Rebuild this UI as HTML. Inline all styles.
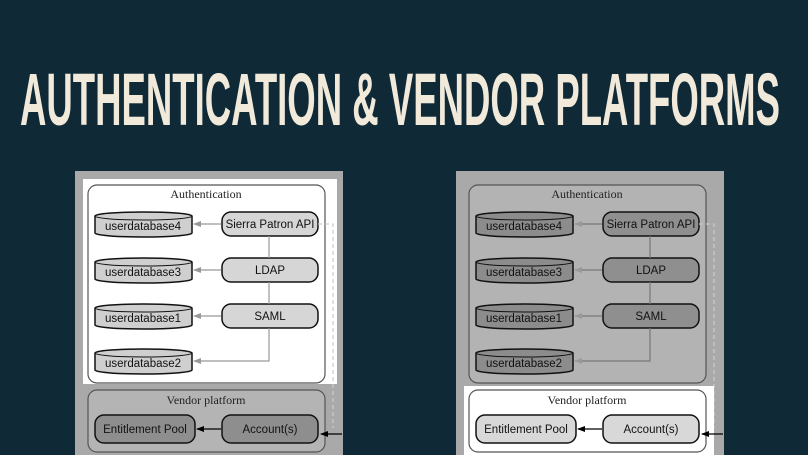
<!DOCTYPE html>
<html><head><style>
html,body{margin:0;padding:0;background:#0f2937;width:808px;height:455px;overflow:hidden}
svg{display:block}
text{font-family:"Liberation Sans",sans-serif}
.s{font-family:"Liberation Serif",serif;font-size:12px;fill:#222}
.n{font-size:11.5px;fill:#111}
</style></head><body>
<svg width="808" height="455" viewBox="0 0 808 455" xmlns="http://www.w3.org/2000/svg">
<defs>
<marker id="ag" markerWidth="8" markerHeight="8" refX="7" refY="4" orient="auto" markerUnits="userSpaceOnUse"><path d="M0,1 L8,4 L0,7 Z" fill="#999"/></marker>
<marker id="ab" markerWidth="8" markerHeight="8" refX="7" refY="4" orient="auto" markerUnits="userSpaceOnUse"><path d="M0,1 L8,4 L0,7 Z" fill="#000"/></marker>
<g id="c1"><path d="M95,216 A48.5,4 0 0 1 192,216 V233 A48.5,4 0 0 1 95,233 Z" stroke="#111" stroke-width="1.5"/><path d="M95,216 A48.5,4 0 0 0 192,216" fill="none" stroke="#111" stroke-width="1"/></g>
</defs>
<text x="20" y="125" font-size="74" font-weight="bold" fill="#f1eadb" textLength="760" lengthAdjust="spacingAndGlyphs" style="font-family:'Liberation Sans',sans-serif">AUTHENTICATION &amp; VENDOR PLATFORMS</text>

<!-- LEFT -->
<g>
<rect x="75" y="171" width="268" height="290" fill="#a9a9a9"/>
<rect x="83" y="179" width="254" height="205" fill="#fff"/>
<rect x="88" y="185" width="237" height="198" rx="9" fill="#fff" stroke="#555" stroke-width="1.2"/>
<text class="s" x="206" y="198" text-anchor="middle">Authentication</text>
<g fill="#cfcfcf">
<use href="#c1"/><use href="#c1" y="46"/><use href="#c1" y="92"/><use href="#c1" y="137"/>
</g>
<g class="n" text-anchor="middle"><text x="143" y="230">userdatabase4</text><text x="143" y="276">userdatabase3</text><text x="143" y="322">userdatabase1</text><text x="143" y="367">userdatabase2</text></g>
<g fill="#d6d6d6" stroke="#111" stroke-width="1.5">
<rect x="222" y="212" width="96" height="24" rx="9"/><rect x="222" y="258" width="96" height="24" rx="9"/><rect x="222" y="304" width="96" height="24" rx="9"/>
</g>
<g class="n" text-anchor="middle"><text x="270" y="228">Sierra Patron API</text><text x="270" y="274">LDAP</text><text x="270" y="320">SAML</text></g>
<g stroke="#999" stroke-width="1.2" fill="none">
<line x1="221" y1="224" x2="194" y2="224" marker-end="url(#ag)"/><line x1="221" y1="270" x2="194" y2="270" marker-end="url(#ag)"/><line x1="221" y1="316" x2="194" y2="316" marker-end="url(#ag)"/>
<line x1="269" y1="236" x2="269" y2="258"/><line x1="269" y1="282" x2="269" y2="304"/>
<path d="M269,328 V361 H194" marker-end="url(#ag)"/>
<path d="M318,224 H333 V428" stroke-dasharray="4,3" stroke="#ccc"/>
</g>
<rect x="88" y="390" width="237" height="62" rx="9" fill="#b4b4b4" stroke="#555" stroke-width="1.2"/>
<text class="s" x="206" y="404" text-anchor="middle">Vendor platform</text>
<rect x="95" y="415" width="100" height="28" rx="9" fill="#8e8e8e" stroke="#111" stroke-width="1.5"/>
<rect x="222" y="415" width="96" height="28" rx="9" fill="#8e8e8e" stroke="#111" stroke-width="1.5"/>
<text class="n" x="145" y="433" text-anchor="middle">Entitlement Pool</text>
<text class="n" x="270" y="433" text-anchor="middle">Account(s)</text>
<line x1="221" y1="429" x2="197" y2="429" stroke="#000" stroke-width="1.3" marker-end="url(#ab)"/>
<line x1="342" y1="434" x2="321" y2="434" stroke="#000" stroke-width="1.3" marker-end="url(#ab)"/>
</g>

<!-- RIGHT -->
<g transform="translate(381,0)">
<rect x="75" y="171" width="268" height="290" fill="#a9a9a9"/>
<rect x="88" y="185" width="237" height="198" rx="9" fill="#b3b3b3" stroke="#555" stroke-width="1.2"/>
<text class="s" x="206" y="198" text-anchor="middle">Authentication</text>
<g fill="#8c8c8c">
<use href="#c1"/><use href="#c1" y="46"/><use href="#c1" y="92"/><use href="#c1" y="137"/>
</g>
<g class="n" text-anchor="middle"><text x="143" y="230">userdatabase4</text><text x="143" y="276">userdatabase3</text><text x="143" y="322">userdatabase1</text><text x="143" y="367">userdatabase2</text></g>
<g fill="#8f8f8f" stroke="#111" stroke-width="1.5">
<rect x="222" y="212" width="96" height="24" rx="9"/><rect x="222" y="258" width="96" height="24" rx="9"/><rect x="222" y="304" width="96" height="24" rx="9"/>
</g>
<g class="n" text-anchor="middle"><text x="270" y="228">Sierra Patron API</text><text x="270" y="274">LDAP</text><text x="270" y="320">SAML</text></g>
<g stroke="#777" stroke-width="1.2" fill="none">
<line x1="221" y1="224" x2="194" y2="224" marker-end="url(#ag)"/><line x1="221" y1="270" x2="194" y2="270" marker-end="url(#ag)"/><line x1="221" y1="316" x2="194" y2="316" marker-end="url(#ag)"/>
<line x1="269" y1="236" x2="269" y2="258"/><line x1="269" y1="282" x2="269" y2="304"/>
<path d="M269,328 V361 H194" marker-end="url(#ag)"/>
<path d="M318,224 H333 V428" stroke-dasharray="4,3" stroke="#ccc"/>
</g>
<rect x="83" y="386" width="250" height="69" fill="#fff"/>
<rect x="88" y="390" width="237" height="62" rx="9" fill="#fff" stroke="#555" stroke-width="1.2"/>
<text class="s" x="206" y="404" text-anchor="middle">Vendor platform</text>
<rect x="95" y="415" width="100" height="28" rx="9" fill="#d8d8d8" stroke="#111" stroke-width="1.5"/>
<rect x="222" y="415" width="96" height="28" rx="9" fill="#d8d8d8" stroke="#111" stroke-width="1.5"/>
<text class="n" x="145" y="433" text-anchor="middle">Entitlement Pool</text>
<text class="n" x="270" y="433" text-anchor="middle">Account(s)</text>
<line x1="221" y1="429" x2="197" y2="429" stroke="#000" stroke-width="1.3" marker-end="url(#ab)"/>
<line x1="342" y1="434" x2="321" y2="434" stroke="#000" stroke-width="1.3" marker-end="url(#ab)"/>
</g>
</svg>
</body></html>
